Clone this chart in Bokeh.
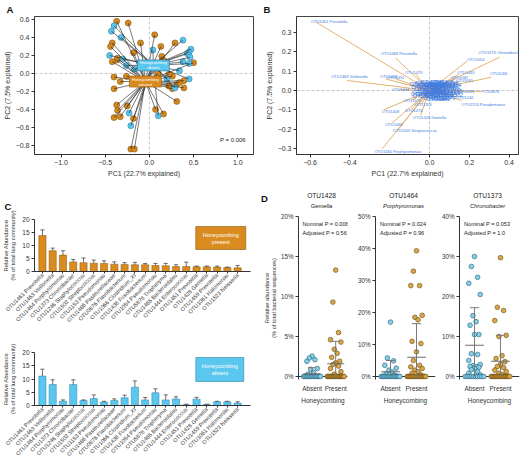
import math
from bokeh.plotting import figure
from bokeh.models import Range1d, Span, Label, FixedTicker
from bokeh.layouts import row, column
from bokeh.embed import file_html
from bokeh.resources import INLINE
from bokeh.core.properties import value

FONT = "Liberation Sans"
ORANGE = "#D98B1F"
ORANGE_DARK = "#6E440B"
BLUE = "#5BC6EE"
BLUE_DARK = "#276C8C"
AXIS = "#333333"

# ---------------- Panel A data (PCoA, spider to centroids) ----------------
a_present_pc1 = [-0.37, -0.24, 0.06, -0.10, -0.42, -0.44, 0.13, 0.29, -0.18, -0.37, -0.42, 0.14, 0.50,
                 -0.40, -0.33, -0.26, -0.40, 0.26, 0.39, 0.31, 0.39, 0.26, 0.22, 0.31, -0.37, -0.36,
                 -0.40, -0.33, -0.25, -0.18, 0.07, 0.16, -0.21, -0.17, 0.17, 0.34, 0.22, -0.36, 0.10]
a_present_pc2 = [0.58, 0.56, 0.43, 0.34, 0.34, 0.30, 0.30, 0.34, 0.23, 0.15, 0.13, 0.19, 0.12,
                 -0.04, -0.09, -0.03, -0.17, -0.03, -0.08, -0.12, -0.16, -0.17, -0.14, -0.31, -0.35, -0.41,
                 -0.49, -0.48, -0.36, -0.50, -0.40, -0.45, -0.84, -0.84, 0.14, -0.10, -0.01, 0.17, 0.0]
a_absent_pc1 = [-0.40, -0.43, -0.32, 0.38, 0.04, 0.47, 0.45, 0.43, 0.46, 0.45, -0.45, -0.26, -0.17,
                0.34, 0.45, 0.29, -0.23, -0.21, 0.10, 0.20, -0.30, 0.38]
a_absent_pc2 = [0.53, 0.47, 0.40, 0.37, 0.26, 0.27, 0.24, 0.22, 0.18, 0.11, 0.20, 0.09, 0.05,
                0.03, -0.06, -0.16, -0.44, -0.58, -0.47, -0.06, 0.16, 0.13]
a_centroid_pc1 = [0.045, -0.045]   # absent, present
a_centroid_pc2 = [0.09, -0.09]
a_group_line1 = ["Honeycombing", "Honeycombing"]
a_group_line2 = ["absent", "present"]
a_pvalue = "P = 0.006"
a_xticks = [-1.0, -0.5, 0.0, 0.5, 1.0]
a_xtick_labels = ["\u22121.0", "\u22120.5", "0.0", "0.5", "1.0"]
a_yticks = [-0.8, -0.6, -0.4, -0.2, 0.0, 0.2, 0.4, 0.6]
a_ytick_labels = ["\u22120.8", "\u22120.6", "\u22120.4", "\u22120.2", "0.0", "0.2", "0.4", "0.6"]

# ---------------- Panel B data (biplot arrows) ----------------
b_names = ["OTU1461 Prevotella", "OTU1468 Prevotella", "OTU1463 Veillonella", "OTU1464 Porphyromonas",
           "OTU1502 Streptococcus", "OTU1466", "OTU1408", "OTU1474", "OTU1428 Gemella", "OTU1324",
           "OTU1429", "OTU1438", "OTU1451", "OTU1444", "OTU1375", "OTU1373 Chronobacter", "OTU1054",
           "OTU1066", "OTU1465", "OTU1082", "OTU1095", "OTU1281", "OTU0876", "OTU1246",
           "OTU1153 Pseudomonas", "OTU1304"]
b_tip_x = [-0.568, -0.171, -0.414, -0.238, -0.159, -0.19, -0.23, -0.09, -0.045, -0.04,
           -0.07, -0.22, -0.17, -0.15, -0.09, 0.352, 0.189, 0.31, 0.147, 0.13,
           0.15, 0.16, 0.265, 0.122, 0.164, 0.03]
b_tip_y = [0.353, 0.169, 0.052, -0.302, -0.203, -0.17, -0.10, -0.095, -0.13, -0.07,
           0.085, 0.06, 0.06, 0.005, -0.05, 0.172, 0.152, 0.069, 0.083, 0.06,
           0.045, -0.002, -0.005, -0.026, -0.052, -0.045]
b_lab_x = [-0.504, -0.154, -0.402, -0.159, -0.073, -0.179, -0.196, -0.079, 0.0, -0.032,
           -0.079, -0.205, -0.17, -0.146, -0.087, 0.353, 0.233, 0.347, 0.183, 0.15,
           0.175, 0.181, 0.307, 0.176, 0.271, 0.039]
b_lab_y = [0.359, 0.19, 0.072, -0.316, -0.207, -0.178, -0.107, -0.104, -0.141, -0.074,
           0.095, 0.072, 0.066, 0.007, -0.052, 0.195, 0.16, 0.086, 0.093, 0.065,
           0.052, -0.005, -0.005, -0.035, -0.072, -0.048]
b_minor_names = ["OTU1012", "OTU1027", "OTU1033", "OTU1041", "OTU1048", "OTU1057", "OTU1063",
                 "OTU1070", "OTU1078", "OTU1086", "OTU1091", "OTU1103", "OTU1117", "OTU1122",
                 "OTU1139", "OTU1146", "OTU1158", "OTU1164", "OTU1172", "OTU1189", "OTU1195",
                 "OTU1207", "OTU1213", "OTU1226", "OTU1238", "OTU1254", "OTU1267", "OTU1289",
                 "OTU1295", "OTU1302", "OTU1311", "OTU1318", "OTU1327", "OTU1336", "OTU1342",
                 "OTU1355", "OTU1361", "OTU1368", "OTU1379", "OTU1384"]
b_minor_x = [-0.012, 0.035, 0.068, 0.005, 0.048, 0.085, -0.03, 0.02, 0.062, -0.015, 0.09, 0.038, 0.002,
             0.072, -0.028, 0.025, 0.058, 0.095, -0.01, 0.04, 0.078, 0.008, 0.055, -0.025, 0.03, 0.10,
             -0.04, 0.015, 0.105, 0.11, -0.035, 0.06, 0.0, 0.085, 0.045, -0.02, 0.095, 0.03, 0.07, 0.012]
b_minor_y = [0.038, 0.036, 0.033, 0.027, 0.025, 0.022, 0.02, 0.016, 0.013, 0.009, 0.008, 0.004, -0.001,
             -0.003, -0.006, -0.01, -0.013, -0.012, -0.018, -0.022, -0.024, -0.029, -0.033, -0.03, -0.04,
             0.03, 0.035, 0.045, 0.0, -0.025, -0.018, 0.042, 0.02, 0.04, -0.045, 0.028, 0.018, 0.03,
             -0.038, -0.008]
b_xticks = [-0.6, -0.4, 0.0, 0.2, 0.4]
b_xtick_labels = ["\u22120.6", "\u22120.4", "0.0", "0.2", "0.4"]
b_yticks = [-0.3, -0.2, -0.1, 0.0, 0.1, 0.2, 0.3]
b_ytick_labels = ["\u22120.3", "\u22120.2", "\u22120.1", "0.0", "0.1", "0.2", "0.3"]

# ---------------- Panel C data (mean relative abundance + SEM) ----------------
c_otus = ["OTU1461 Prevotella", "OTU1463 Veillonella", "OTU1464 Porphyromonas", "OTU1373 Chronobacter",
          "OTU1246 Staphylococcus", "OTU1502 Streptococcus", "OTU1153 Pseudomonas",
          "OTU1466 Pasteurellaceae", "OTU0876 Flavobacterium", "OTU1066 Clostridium_XI",
          "OTU1438 Fusobacterium", "OTU1054 Pseudomonas", "OTU5878 Tropheryma",
          "OTU1465 Bacteroidales", "OTU1444 Enterococcus", "OTU1451 Prevotella", "OTU1428 Gemella",
          "OTU1459 Prevotella", "OTU1061 Halomonas", "OTU1523 Neisseria"]
c_present = [13.8, 8.0, 6.3, 3.7, 3.4, 3.2, 3.1, 2.8, 2.7, 2.6, 2.6, 2.3, 2.2, 1.9, 1.9, 1.8, 1.8, 1.7, 1.5, 1.4]
c_present_upper = [16.0, 9.0, 8.0, 4.6, 5.2, 4.4, 4.1, 3.7, 3.4, 3.5, 3.1, 3.1, 3.1, 2.6, 3.6, 2.1, 2.1, 2.1, 1.7, 2.3]
c_absent = [11.1, 7.9, 1.6, 7.9, 1.9, 2.6, 1.3, 1.9, 2.9, 6.9, 2.1, 4.8, 2.1, 2.5, 0.3, 2.4, 0.4, 1.4, 1.4, 0.9]
c_absent_upper = [13.7, 9.7, 2.1, 9.7, 2.1, 4.0, 1.6, 2.5, 3.9, 9.3, 3.0, 6.3, 4.0, 3.3, 0.5, 3.1, 0.5, 1.6, 1.6, 1.4]
c_yticks = [0, 5, 10, 15, 20]
c_ylabel = "Relative Abundance\n(% of total lung community)"
c_legend_present = ["Honeycombing", "present"]
c_legend_absent = ["Honeycombing", "absent"]

# ---------------- Panel D data (per-patient abundance, %) ----------------
d_otu = ["OTU1428", "OTU1464", "OTU1373"]
d_genus = ["Gemella", "Porphyromonas", "Chronobacter"]
d_nominal = ["Nominal P = 0.008", "Nominal P = 0.024", "Nominal P = 0.053"]
d_adjusted = ["Adjusted P = 0.56", "Adjusted P =  0.96", "Adjusted P = 1.0"]
d_groups = ["Absent", "Present"]
d_ylabel = "Relative abundance\n(% of total bacterial sequences)"
d_absent_vals = [
    [2.55, 2.3, 2.1, 1.9, 1.0, 0.9, 0.5, 0.3, 0, 0, 0, 0, 0, 0, 0, 0, 0, 0, 0, 0, 0, 0],
    [17.0, 5.8, 4.9, 3.5, 2.6, 2.0, 1.4, 0.8, 0.4, 0, 0, 0, 0, 0, 0, 0, 0, 0, 0, 0, 0, 0, 0, 0, 0],
    [30.0, 27.5, 24.8, 23.3, 20.5, 15.2, 13.7, 12.8, 10.5, 10.5, 5.7, 5.5, 4.0, 3.0, 2.7, 2.5, 2.5,
     2.3, 2.0, 1.7, 1.2, 0.8, 0.4, 0, 0, 0, 0, 0, 0, 0, 0, 0, 0],
]
d_present_vals = [
    [13.3, 9.3, 5.5, 4.6, 4.3, 3.4, 2.9, 2.4, 1.9, 1.7, 1.5, 1.3, 1.0, 0.6, 0.3,
     0, 0, 0, 0, 0, 0, 0, 0, 0, 0, 0, 0, 0, 0, 0, 0, 0, 0, 0, 0],
    [39.3, 32.9, 28.4, 28.4, 19.1, 18.5, 17.7, 11.0, 10.3, 7.7, 5.0, 3.5, 3.0, 2.5, 2.0, 1.5, 1.0, 0.5,
     0, 0, 0, 0, 0, 0, 0, 0, 0, 0, 0, 0, 0, 0, 0, 0, 0, 0],
    [29.7, 17.3, 16.5, 14.0, 10.3, 10.0, 5.2, 4.5, 3.7, 3.0, 2.5, 2.2, 1.6, 1.2, 0.8, 0.5,
     0, 0, 0, 0, 0, 0, 0, 0, 0, 0, 0, 0, 0, 0, 0, 0, 0, 0],
]
d_absent_mean = [0.35, 1.5, 7.8]
d_absent_upper = [1.1, 5.0, 17.2]
d_present_mean = [1.6, 6.0, 3.8]
d_present_upper = [4.4, 16.5, 10.3]
d_ytop = [20, 50, 40]
d_yticks = [[0, 5, 10, 15, 20], [0, 10, 20, 30, 40, 50], [0, 10, 20, 30, 40]]
d_ytick_labels = [["0%", "5%", "10%", "15%", "20%"], ["0%", "10%", "20%", "30%", "40%", "50%"],
                  ["0%", "10%", "20%", "30%", "40%"]]
panel_letters = ["A", "B", "C", "D"]


# ---------------- helpers ----------------
def style_axis(ax, size="7px"):
    ax.major_label_text_font = FONT
    ax.major_label_text_font_size = size
    ax.major_label_text_color = AXIS
    ax.axis_label_text_font = FONT
    ax.axis_label_text_font_style = "normal"
    ax.axis_label_text_font_size = size
    ax.axis_label_text_color = AXIS
    ax.minor_tick_line_color = None
    ax.major_tick_in = 0
    ax.major_tick_out = 3
    ax.major_label_standoff = 2
    ax.axis_label_standoff = 2
    ax.axis_line_color = AXIS
    ax.major_tick_line_color = AXIS


def make_fig(w, h, L, R, T, B, xr, yr):
    p = figure(width=w, height=h, x_range=Range1d(xr[0], xr[1]), y_range=Range1d(yr[0], yr[1]),
               output_backend="svg", toolbar_location=None,
               min_border_left=L, min_border_right=R, min_border_top=T, min_border_bottom=B)
    p.xgrid.visible = False
    p.ygrid.visible = False
    p.outline_line_color = None
    p.background_fill_color = "white"
    p.border_fill_color = "white"
    style_axis(p.xaxis[0])
    style_axis(p.yaxis[0])
    g = dict(L=L, T=T, W=w - L - R, H=h - T - B, x0=xr[0], x1=xr[1], y0=yr[0], y1=yr[1])
    return p, g


def letter_title(p, text, offset, standoff):
    p.title.text = text
    p.title.align = "left"
    p.title.offset = offset
    p.title.standoff = standoff
    p.title.text_font = FONT
    p.title.text_font_size = "9.5px"
    p.title.text_font_style = "bold"
    p.title.text_color = "#111111"


def to_data(g, px, py):
    x = g["x0"] + (px - g["L"]) / g["W"] * (g["x1"] - g["x0"])
    y = g["y1"] - (py - g["T"]) / g["H"] * (g["y1"] - g["y0"])
    return x, y


def add_label(p, g, px, py, text, size, align="center", style="normal", color="#222222"):
    x, y = to_data(g, px, py)
    p.add_layout(Label(x=x, y=y, text=text, text_font=FONT, text_font_size=f"{size}px",
                       text_align=align, text_baseline="middle",
                       text_font_style=style, text_color=color))


def zero_spans(p):
    for dim in ("width", "height"):
        s = Span(location=0, dimension=dim, line_color="#b8b8b8", line_dash="3 2", line_width=0.8)
        s.level = "underlay"
        p.add_layout(s)


# ---------------- Panel A ----------------
pA, gA = make_fig(260, 190, 30, 7, 16, 36, (-1.30, 1.178), (-0.90, 0.633))
letter_title(pA, panel_letters[0], -28, 3)
pA.outline_line_color = "#444444"
pA.xaxis.ticker = FixedTicker(ticks=a_xticks)
pA.xaxis.major_label_overrides = dict(zip(a_xticks, a_xtick_labels))
pA.yaxis.ticker = FixedTicker(ticks=a_yticks)
pA.yaxis.major_label_overrides = dict(zip(a_yticks, a_ytick_labels))
pA.xaxis.axis_label = "PC1 (22.7% explained)"
pA.yaxis.axis_label = "PC2 (7.5% explained)"
zero_spans(pA)
pA.scatter(a_present_pc1, a_present_pc2, size=6, fill_color=ORANGE, line_color=ORANGE_DARK, line_width=0.5)
pA.scatter(a_absent_pc1, a_absent_pc2, size=6, fill_color=BLUE, line_color=BLUE_DARK, line_width=0.5)
pA.segment(x0=a_present_pc1, y0=a_present_pc2,
           x1=[a_centroid_pc1[1]] * len(a_present_pc1), y1=[a_centroid_pc2[1]] * len(a_present_pc2),
           line_color="#1e1e1e", line_width=0.6)
pA.segment(x0=a_absent_pc1, y0=a_absent_pc2,
           x1=[a_centroid_pc1[0]] * len(a_absent_pc1), y1=[a_centroid_pc2[0]] * len(a_absent_pc2),
           line_color="#1e1e1e", line_width=0.6)
pA.rect(x=a_centroid_pc1, y=a_centroid_pc2, width=32, height=11, width_units="screen",
        height_units="screen", fill_color=[BLUE, ORANGE], line_color=[BLUE_DARK, "#9a5c0c"], line_width=0.6)
pA.text(x=a_centroid_pc1, y=a_centroid_pc2, text=a_group_line1, y_offset=-2.4, text_align="center",
        text_baseline="middle", text_color="white", text_font=value(FONT), text_font_size=value("4px"))
pA.text(x=a_centroid_pc1, y=a_centroid_pc2, text=a_group_line2, y_offset=2.6, text_align="center",
        text_baseline="middle", text_color="white", text_font=value(FONT), text_font_size=value("4px"))
add_label(pA, gA, 232, 139, a_pvalue, 6)

# ---------------- Panel B ----------------
pB, gB = make_fig(260, 190, 36, 2, 16, 36, (-0.668, 0.447), (-0.331, 0.383))
letter_title(pB, panel_letters[1], -33, 3)
pB.outline_line_color = "#444444"
pB.xaxis.ticker = FixedTicker(ticks=b_xticks)
pB.xaxis.major_label_overrides = dict(zip(b_xticks, b_xtick_labels))
pB.yaxis.ticker = FixedTicker(ticks=b_yticks)
pB.yaxis.major_label_overrides = dict(zip(b_yticks, b_ytick_labels))
pB.xaxis.axis_label = "PC1 (22.7% explained)"
pB.yaxis.axis_label = "PC2 (7.5% explained)"
zero_spans(pB)
ARROW = "#D9A04E"
BTEXT = "#3D7BE0"
pB.segment(x0=0, y0=0, x1=b_tip_x, y1=b_tip_y, line_color=ARROW, line_width=0.8)
pB.segment(x0=0, y0=0, x1=b_minor_x, y1=b_minor_y, line_color=ARROW, line_width=0.6)
pB.text(x=b_minor_x, y=b_minor_y, text=b_minor_names, text_align="center", text_baseline="middle",
        text_color=BTEXT, text_font=value(FONT), text_font_size=value("5.5px"))
pB.text(x=b_lab_x, y=b_lab_y, text=b_names, text_align="center", text_baseline="middle",
        text_color=BTEXT, text_font=value(FONT), text_font_size=value("4px"))

# ---------------- Panel C ----------------
idx = list(range(len(c_otus)))


def make_c(h, T, B, means, uppers, fill, line, legend_lines, box_center, box_size):
    p, g = make_fig(260, h, 32, 10, T, B, (-0.77, 20.25), (0, 20))
    p.yaxis.ticker = FixedTicker(ticks=c_yticks)
    p.yaxis.major_label_text_font_size = "6.5px"
    p.yaxis.axis_label = c_ylabel
    p.yaxis.axis_label_text_font_size = "5.8px"
    p.yaxis.axis_label_standoff = 3
    p.xaxis.ticker = FixedTicker(ticks=idx)
    p.xaxis.major_label_overrides = dict(zip(idx, c_otus))
    p.xaxis.major_label_orientation = math.pi / 4
    p.xaxis.major_label_text_font_size = "5.6px"
    p.xaxis.major_tick_out = 2
    p.xaxis.major_label_standoff = 1
    p.vbar(x=idx, top=means, bottom=0, width=0.7, fill_color=fill, line_color=line, line_width=0.5)
    p.segment(x0=idx, y0=means, x1=idx, y1=uppers, line_color="#333333", line_width=0.7)
    p.segment(x0=[i - 0.2 for i in idx], y0=uppers, x1=[i + 0.2 for i in idx], y1=uppers,
              line_color="#333333", line_width=0.7)
    cx, cy = to_data(g, box_center[0], box_center[1])
    p.rect(x=[cx], y=[cy], width=box_size[0], height=box_size[1], width_units="screen",
           height_units="screen", fill_color=fill, line_color=line, line_width=0.6)
    add_label(p, g, box_center[0], box_center[1] - 3.4, legend_lines[0], 5.4, color="white")
    add_label(p, g, box_center[0], box_center[1] + 3.7, legend_lines[1], 5.4, color="white")
    return p, g


pC1, gC1 = make_c(140, 29, 59, c_present, c_present_upper, ORANGE, "#8a560f", c_legend_present,
                  (220, 47.5), (50, 23))
letter_title(pC1, panel_letters[2], -30, 16)
pC2, gC2 = make_c(132, 22, 57, c_absent, c_absent_upper, BLUE, "#2f84ad", c_legend_absent,
                  (219, 39), (48, 24))

# ---------------- Panel D ----------------
ABS_FILL = "#86D0EA"
ABS_LINE = "#1F5A72"
PRES_FILL = "#D9A748"
PRES_LINE = "#6A460E"
SPREAD = [0.0, -0.12, 0.12, -0.22, 0.22, -0.06, 0.06, -0.17, 0.17]
D_W = [90, 86, 84]
D_L = [33, 25, 23]
D_R = [3, 1, 1]
D_SP, D_AOFF = 26.0, 15.0
HEAD_H = 20


def swarm(vals, center):
    nz = sorted([v for v in vals if v > 0], reverse=True)
    zeros = [v for v in vals if v == 0]
    xs = [center + SPREAD[i % len(SPREAD)] for i in range(len(nz))]
    ys = list(nz)
    n = len(zeros)
    for k in range(n):
        xs.append(center - 0.36 + 0.72 * k / max(n - 1, 1))
        ys.append(zeros[k])
    return xs, ys


def make_d(i):
    w, L, R = D_W[i], D_L[i], D_R[i]
    H_total, T, Hf, zero_px = 272 - HEAD_H, 6, 163, 160
    B = H_total - T - Hf
    top = d_ytop[i]
    y0 = -top * (Hf - zero_px) / zero_px
    W = w - L - R
    x0 = -D_AOFF / D_SP
    x1 = x0 + W / D_SP
    p, g = make_fig(w, H_total, L, R, T, B, (x0, x1), (y0, top))
    p.yaxis.ticker = FixedTicker(ticks=d_yticks[i])
    p.yaxis.major_label_overrides = dict(zip(d_yticks[i], d_ytick_labels[i]))
    p.yaxis.major_label_text_font_size = "6.3px"
    p.xaxis.ticker = FixedTicker(ticks=[0, 1])
    p.xaxis.major_label_overrides = dict(zip([0, 1], d_groups))
    p.xaxis.axis_label = "Honeycombing"
    p.xaxis.major_label_text_font_size = "6.4px"
    p.xaxis.axis_label_text_font_size = "6.5px"
    p.xaxis.axis_line_color = None
    p.xaxis.major_tick_out = 0
    p.xaxis.major_label_standoff = 5
    p.xaxis.axis_label_standoff = 2
    base = Span(location=0, dimension="width", line_color=AXIS, line_width=1)
    base.level = "underlay"
    p.add_layout(base)
    ax, ay = swarm(d_absent_vals[i], 0)
    px_, py_ = swarm(d_present_vals[i], 1)
    p.scatter(ax, ay, size=4.7, fill_color=ABS_FILL, line_color=ABS_LINE, line_width=0.6)
    p.scatter(px_, py_, size=4.7, fill_color=PRES_FILL, line_color=PRES_LINE, line_width=0.6)
    means = [d_absent_mean[i], d_present_mean[i]]
    uppers = [d_absent_upper[i], d_present_upper[i]]
    lowers = [max(0.0, 2 * m - u) for m, u in zip(means, uppers)]
    p.segment(x0=[0, 1], y0=lowers, x1=[0, 1], y1=uppers, line_color="#7a7a7a", line_width=1)
    p.segment(x0=[-0.18, 0.82], y0=uppers, x1=[0.18, 1.18], y1=uppers, line_color="#7a7a7a", line_width=1)
    p.segment(x0=[-0.36, 0.64], y0=means, x1=[0.36, 1.36], y1=means, line_color="#6a6a6a", line_width=1.1)
    add_label(p, g, L + 4.5, 223.5 - 190 - HEAD_H, d_nominal[i], 5.6, align="left")
    add_label(p, g, L + 4.5, 232.5 - 190 - HEAD_H, d_adjusted[i], 5.6, align="left")
    return p, g


pD1, gD1 = make_d(0)
pD1.yaxis.axis_label = d_ylabel
pD1.yaxis.axis_label_text_font_size = "5.7px"
pD1.yaxis.axis_label_standoff = 1
pD2, gD2 = make_d(1)
pD3, gD3 = make_d(2)

# header strip above the three D plots: panel letter, OTU ids and genus names
head_w = sum(D_W)
head = figure(width=head_w, height=HEAD_H, x_range=Range1d(0, head_w), y_range=Range1d(HEAD_H, 0),
              output_backend="svg", toolbar_location=None, x_axis_type=None, y_axis_type=None,
              min_border_left=0, min_border_right=0, min_border_top=0, min_border_bottom=0)
head.outline_line_color = None
head.xgrid.visible = False
head.ygrid.visible = False
starts = [0, D_W[0], D_W[0] + D_W[1]]
centers = [starts[i] + D_L[i] + D_AOFF + D_SP * 0.5 for i in range(3)]
head.text(x=centers, y=[5.0] * 3, text=d_otu, text_align="center", text_baseline="middle",
          text_color="#222222", text_font=value(FONT), text_font_size=value("6.6px"))
head.text(x=centers, y=[15.0] * 3, text=d_genus, text_align="center", text_baseline="middle",
          text_color="#222222", text_font=value(FONT), text_font_size=value("5.8px"),
          text_font_style="italic")
head.text(x=[0.5], y=[7.8], text=[panel_letters[3]], text_align="left", text_baseline="middle",
          text_color="#111111", text_font=value(FONT), text_font_size=value("9.5px"),
          text_font_style="bold")

layout = column(row(pA, pB), row(column(pC1, pC2), column(head, row(pD1, pD2, pD3))))
open("out.html", "w").write(file_html(layout, INLINE))
